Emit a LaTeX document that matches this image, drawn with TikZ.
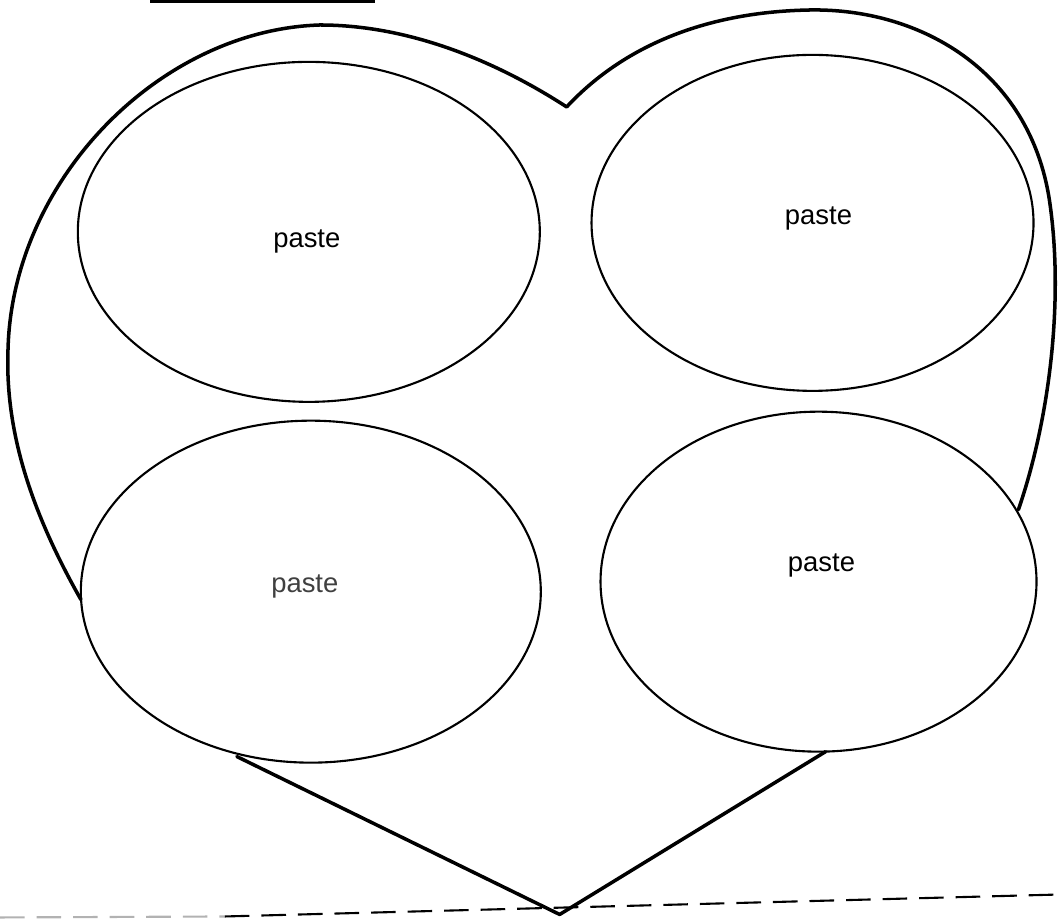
\documentclass[tikz,border=0pt]{standalone}
\usepackage{fontspec}
\setmainfont{Liberation Sans}
\usetikzlibrary{shapes.geometric}

\begin{document}
\begin{tikzpicture}[
        pad/.style={draw, ellipse, line width=0.6pt, inner sep=0pt, outer sep=0pt},
        lbl/.style={font=\fontsize{7.8}{9}\selectfont, inner sep=0pt},
        heart/.style={line width=1pt, line join=round, line cap=round},
        cutline/.style={line width=0.6pt, dash pattern=on 7pt off 3.4pt}
    ]
    \useasboundingbox (0,0) rectangle (10.61,9.2);
    \begin{scope}[shift={(0,9.2)}, x=0.01cm, y=-0.01cm]
        % the four paste areas
        \node[pad, minimum width=4.62cm, minimum height=3.40cm] (tl) at (309,232) {};
        \node[pad, minimum width=4.42cm, minimum height=3.36cm] (tr) at (813,223) {};
        \node[pad, minimum width=4.60cm, minimum height=3.42cm] (bl) at (311,592) {};
        \node[pad, minimum width=4.36cm, minimum height=3.40cm] (br) at (819,582) {};

        \node[lbl] (tltext) at (307,242) {paste};
        \node[lbl] (trtext) at (819,219) {paste};
        \node[lbl, text=black!75] (bltext) at (305,587) {paste};
        \node[lbl] (brtext) at (822,566) {paste};

        % heart outline
        \coordinate (lstart) at (81,600);
        \coordinate (lside) at (8,350);
        \coordinate (ltop) at (320,25);
        \coordinate (dip) at (567,107);
        \coordinate (rtop) at (810,10);
        \coordinate (rside) at (1050,200);
        \coordinate (rend) at (1019,510);
        \coordinate (tip) at (560,915);
        \draw[heart] (lstart) .. controls (30,510) and (5,430) .. (lside)
            .. controls (12,180) and (160,30) .. (ltop)
            .. controls (420,25) and (510,70) .. (dip)
            .. controls (620,50) and (700,12) .. (rtop)
            .. controls (920,8) and (1030,70) .. (rside)
            .. controls (1065,300) and (1050,420) .. (rend);
        \draw[heart] (br.south) ++(2pt,0) -- (tip) -- (237,757);

        % strip at the top and fold line
        \coordinate (barl) at (150,1);
        \coordinate (barr) at (375,1);
        \draw[line width=1.3pt] (barl) -- (barr);
        \coordinate (cutl) at (0,918);
        \coordinate (cutm) at (225,917);
        \coordinate (cutr) at (1061,895);
        \draw[cutline, black!30] (cutl) -- (cutm);
        \draw[cutline] (cutm) -- (cutr);
    \end{scope}
\end{tikzpicture}
\end{document}
